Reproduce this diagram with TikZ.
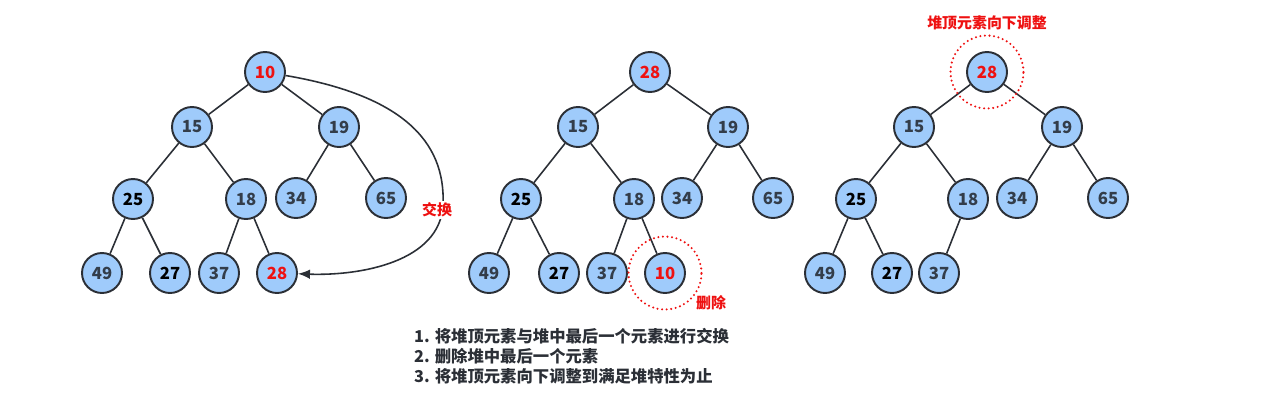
\documentclass[tikz,border=0pt]{standalone}
\usepackage{fontspec}
\setmainfont{Noto Sans CJK SC}
\usepackage{tikz}
\usetikzlibrary{arrows.meta,positioning}
\definecolor{NodeFill}{HTML}{9FCBFB}
\definecolor{Ink}{HTML}{2B2F36}
\definecolor{Digit}{HTML}{333D4A}
\definecolor{Hot}{HTML}{EE1111}
\tikzset{
  heap/.style={circle, draw=Ink, line width=1.1pt, fill=NodeFill,
    minimum size=0.8cm, inner sep=0pt, text=Digit,
    font=\fontsize{9.5}{10}\selectfont\bfseries},
  dark/.style={text=black},
  hot/.style={text=Hot},
  edge/.style={draw=Ink, line width=0.9pt},
  ring/.style={circle, draw=Hot, line width=1.3pt, line cap=round,
    dash pattern=on 0pt off 2.6pt, minimum size=1.46cm, inner sep=0pt},
  tag/.style={text=Hot, font=\fontsize{8.5}{10}\selectfont\bfseries},
  swap/.style={-{Latex[length=2.4mm,width=1.9mm]}, draw=Ink, line width=0.9pt}
}
\begin{document}
\begin{tikzpicture}[x=0.02cm, y=-0.02cm]
  \useasboundingbox (0,0) rectangle (1275,396);
  % first tree: swap top and last
  \node[heap, hot] (a10) at (265,72) {10};
  \node[heap] (a15) at (192,127) {15};
  \node[heap] (a19) at (339,127) {19};
  \node[heap, dark] (a25) at (133,199) {25};
  \node[heap] (a18) at (246,199) {18};
  \node[heap] (a34) at (296,198) {34};
  \node[heap] (a65) at (386,198) {65};
  \node[heap] (a49) at (102,273) {49};
  \node[heap, dark] (a27) at (170,273) {27};
  \node[heap] (a37) at (219,273) {37};
  \node[heap, hot] (a28) at (277,273) {28};
  \draw[edge] (a10) -- (a15) (a10) -- (a19) (a15) -- (a25) (a15) -- (a18)
    (a19) -- (a34) (a19) -- (a65) (a25) -- (a49) (a25) -- (a27)
    (a18) -- (a37) (a18) -- (a28);
  \draw[swap] (a10) .. controls (400,95) and (446,140) .. (443,205)
    .. controls (440,262) and (360,276) .. (a28);
  \node[tag, fill=white, inner sep=1pt] (lswap) at (437,210) {交换};
  % second tree: remove last
  \node[heap, hot] (b28) at (650,72) {28};
  \node[heap] (b15) at (578,127) {15};
  \node[heap] (b19) at (728,127) {19};
  \node[heap, dark] (b25) at (521,199) {25};
  \node[heap] (b18) at (634,199) {18};
  \node[heap] (b34) at (682,198) {34};
  \node[heap] (b65) at (773,198) {65};
  \node[heap] (b49) at (489,273) {49};
  \node[heap, dark] (b27) at (559,273) {27};
  \node[heap] (b37) at (607,273) {37};
  \node[heap, hot] (b10) at (665,273) {10};
  \draw[edge] (b28) -- (b15) (b28) -- (b19) (b15) -- (b25) (b15) -- (b18)
    (b19) -- (b34) (b19) -- (b65) (b25) -- (b49) (b25) -- (b27)
    (b18) -- (b37) (b18) -- (b10);
  \node[ring] (bring) at (b10) {};
  \node[tag] (ldel) at (711,303) {删除};
  % third tree: sift down
  \node[heap, hot] (c28) at (987,72) {28};
  \node[heap] (c15) at (914,127) {15};
  \node[heap] (c19) at (1062,127) {19};
  \node[heap, dark] (c25) at (856,199) {25};
  \node[heap] (c18) at (968,199) {18};
  \node[heap] (c34) at (1017,198) {34};
  \node[heap] (c65) at (1108,198) {65};
  \node[heap] (c49) at (825,273) {49};
  \node[heap, dark] (c27) at (892,273) {27};
  \node[heap] (c37) at (939,273) {37};
  \draw[edge] (c28) -- (c15) (c28) -- (c19) (c15) -- (c25) (c15) -- (c18)
    (c19) -- (c34) (c19) -- (c65) (c25) -- (c49) (c25) -- (c27)
    (c18) -- (c37);
  \node[ring] (cring) at (c28) {};
  \node[tag] (ldown) at (987,23) {堆顶元素向下调整};
  % steps
  \node[anchor=west, align=left, text=Ink,
    font=\fontsize{9.3}{11.3}\selectfont\bfseries] (steps) at (408,356)
    {1. 将堆顶元素与堆中最后一个元素进行交换\\
     2. 删除堆中最后一个元素\\
     3. 将堆顶元素向下调整到满足堆特性为止};
\end{tikzpicture}
\end{document}
